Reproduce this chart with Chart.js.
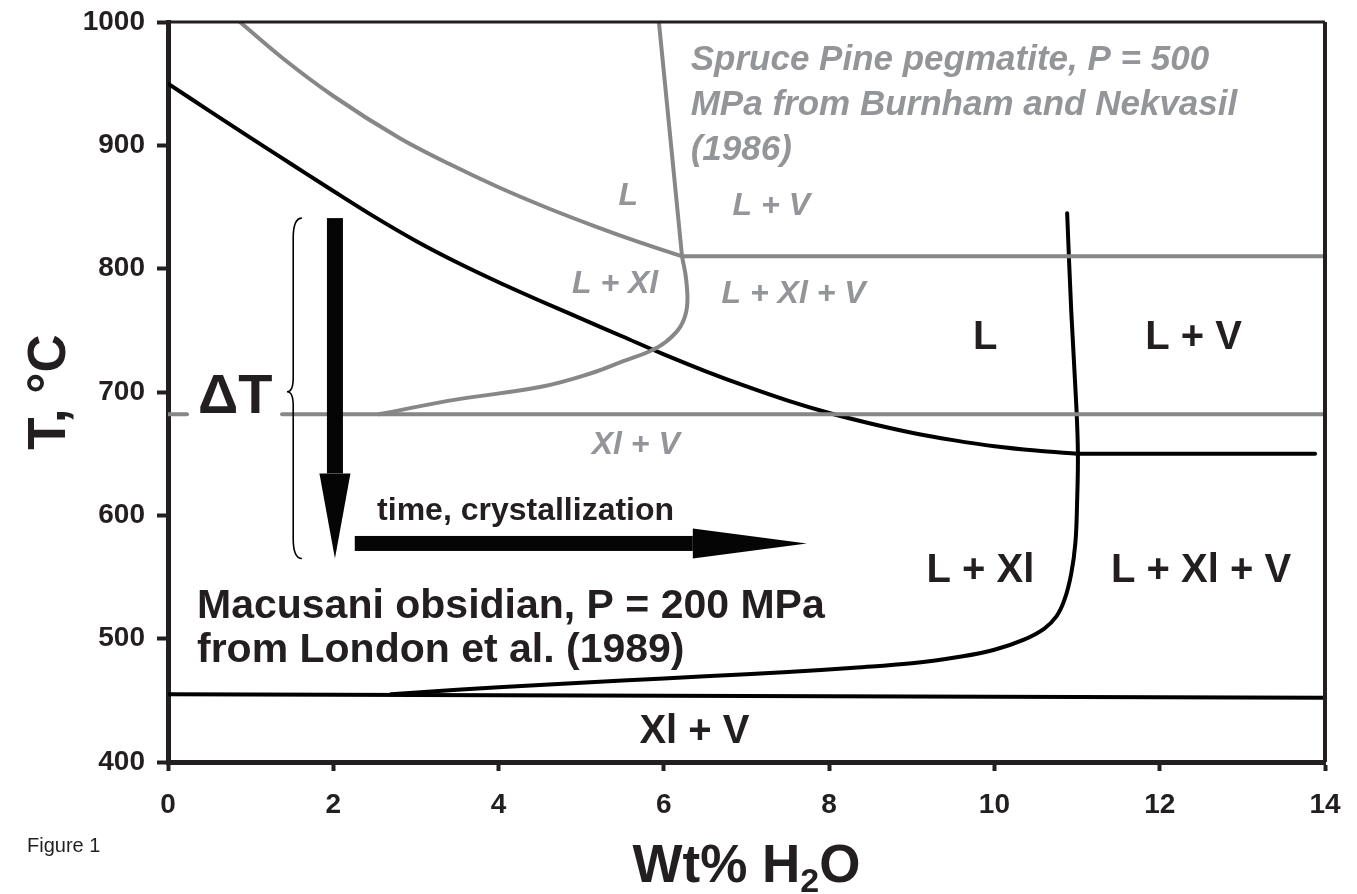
<!DOCTYPE html>
<html>
<head>
<meta charset="utf-8">
<script src="https://cdn.jsdelivr.net/npm/chart.js@4.4.1/dist/chart.umd.min.js"></script>
<style>
  html, body { margin: 0; padding: 0; background: #fff; }
  canvas { display: block; }
</style>
</head>
<body>
<canvas id="phaseChart" width="1357" height="894"></canvas>
<script>
// ===============================
// DATA  (x = wt% H2O, y = T in °C)
// ===============================
const xTicks = [0, 2, 4, 6, 8, 10, 12, 14];
const yTicks = [400, 500, 600, 700, 800, 900, 1000];

// Macusani obsidian, P = 200 MPa
const macLiquidusW = [0, 0.5, 1, 1.5, 2, 2.5, 3, 3.5, 4, 4.5, 5, 5.5, 6, 6.5, 7, 7.5, 8, 8.5, 9, 9.5, 10, 10.5, 11];
const macLiquidusT = [950, 928, 906, 884.5, 863, 842, 822.5, 805, 789, 774, 759.5, 745, 730.5, 717, 704.5, 693, 683, 674.5, 667, 661, 656, 652.5, 650];
const macVaporW = [11, 13.88];
const macVaporT = [650, 650];
const macSaturationW = [2.7, 3.5, 4.5, 5.5, 6.5, 7.5, 8.3, 9.0, 9.6, 10.0, 10.35, 10.6, 10.75, 10.85, 10.93, 10.98, 11.0, 11.01, 10.99, 10.93, 10.88];
const macSaturationT = [455, 458.5, 462.5, 466, 469.5, 473, 476.5, 480, 485.5, 491, 499, 508, 518, 532, 553, 578, 610, 650, 690, 765, 845];
const macSolidusW = [0, 14];
const macSolidusT = [455, 452];

// Spruce Pine pegmatite, P = 500 MPa
const spLiquidusW = [0.87, 1.4, 2.0, 2.8, 3.4, 4.0, 4.6, 5.2, 5.7, 6.22];
const spLiquidusT = [1000, 970, 940, 906, 885, 866, 849, 833.5, 821.5, 810];
const spVaporW = [5.94, 6.22];
const spVaporT = [1000, 810];
const spVaporFlatW = [6.22, 14];
const spVaporFlatT = [810, 810];
const spSaturationW = [6.22, 6.27, 6.28, 6.2, 6.03, 5.83, 5.51, 5.11, 4.5, 3.5, 2.55];
const spSaturationT = [810, 791, 769, 753, 741, 733, 725, 715, 704, 694, 682];
const spSolidusStubW = [0, 0.23];
const spSolidusStubT = [682, 682];
const spSolidusW = [1.38, 14];
const spSolidusT = [682, 682];

// ===============================
// STYLE
// ===============================
const INK = '#231f20';
const LINE_BLACK = '#000000';
const LINE_GRAY = '#878787';
const TEXT_GRAY = '#939598';
const FONT = '"Liberation Sans", Arial, Helvetica, sans-serif';

const pts = (w, t) => w.map((x, i) => ({ x, y: t[i] }));

function curve(w, t, color, smooth) {
    const ds = {
        data: pts(w, t),
        showLine: true,
        borderColor: color,
        borderWidth: 4,
        pointRadius: 0,
        tension: 0,
        borderCapStyle: 'round',
        borderJoinStyle: 'round',
        fill: false
    };
    if (smooth === 'monotone') ds.cubicInterpolationMode = 'monotone';
    else if (smooth) ds.tension = 0.4;
    return ds;
}

// text labels placed in data units
const blackLabels = [
    { text: 'L', w: 9.89, t: 735 },
    { text: 'L + V', w: 12.41, t: 735 },
    { text: 'L + Xl', w: 9.83, t: 546 },
    { text: 'L + Xl + V', w: 12.5, t: 546 },
    { text: 'Xl + V', w: 6.37, t: 415.5 }
];
const grayLabels = [
    { text: 'L', w: 5.57, t: 851.5 },
    { text: 'L + V', w: 7.3, t: 843.5 },
    { text: 'L + Xl', w: 5.41, t: 780.5 },
    { text: 'L + Xl + V', w: 7.57, t: 772 },
    { text: 'Xl + V', w: 5.66, t: 649.5 }
];
const sourceNote = ['Spruce Pine pegmatite, P = 500', 'MPa from Burnham and Nekvasil', '(1986)'];
const obsidianNote = ['Macusani obsidian, P = 200 MPa', 'from London et al. (1989)'];

// ===============================
// DRAWING HELPERS
// ===============================
function text(ctx, str, x, y, font, color, align) {
    ctx.font = font;
    ctx.fillStyle = color;
    ctx.textAlign = align || 'center';
    ctx.textBaseline = 'alphabetic';
    ctx.fillText(str, x, y);
}

// keep the plot box fixed: no extra room for edge tick labels
function noEdgePadding(s) {
    s.paddingTop = 0;
    s.paddingBottom = 0;
    s.paddingLeft = 0;
    s.paddingRight = 0;
}

const overlay = {
    id: 'overlay',
    afterDatasetsDraw(chart) {
        const { ctx, chartArea: a } = chart;
        const sx = chart.scales.x, sy = chart.scales.y;
        const X = v => sx.getPixelForValue(v);
        const Y = v => sy.getPixelForValue(v);

        ctx.save();

        // top + right frame
        ctx.strokeStyle = INK;
        ctx.lineWidth = 3;
        ctx.beginPath();
        ctx.moveTo(a.left - 2, a.top);
        ctx.lineTo(a.right, a.top);
        ctx.stroke();
        ctx.lineWidth = 4;
        ctx.beginPath();
        ctx.moveTo(a.right, a.top);
        ctx.lineTo(a.right, a.bottom);
        ctx.stroke();

        // vertical cooling arrow
        ctx.fillStyle = '#050505';
        const ax = X(2.02);
        ctx.fillRect(ax - 8, Y(841), 16, Y(634) - Y(841));
        ctx.beginPath();
        ctx.moveTo(ax - 15.5, Y(634));
        ctx.lineTo(ax + 15.5, Y(634));
        ctx.lineTo(ax, Y(565));
        ctx.closePath();
        ctx.fill();

        // horizontal time arrow
        const ay = Y(577.2);
        ctx.fillRect(X(2.26), ay - 7.5, X(6.35) - X(2.26), 15);
        ctx.beginPath();
        ctx.moveTo(X(6.35), ay - 15);
        ctx.lineTo(X(7.73), ay);
        ctx.lineTo(X(6.35), ay + 15);
        ctx.closePath();
        ctx.fill();

        // curly brace spanning the undercooling
        const bEnd = X(1.62), bStem = X(1.515), bTip = X(1.44);
        const bTop = Y(841), bMid = Y(700.2), bBot = Y(565);
        ctx.strokeStyle = '#000';
        ctx.lineWidth = 1.6;
        ctx.beginPath();
        ctx.moveTo(bEnd, bTop);
        ctx.quadraticCurveTo(bStem, bTop, bStem, bTop + 20);
        ctx.lineTo(bStem, bMid - 14);
        ctx.quadraticCurveTo(bStem, bMid, bTip, bMid);
        ctx.quadraticCurveTo(bStem, bMid, bStem, bMid + 14);
        ctx.lineTo(bStem, bBot - 20);
        ctx.quadraticCurveTo(bStem, bBot, bEnd, bBot);
        ctx.stroke();

        // ΔT
        text(ctx, 'ΔT', X(0.363), Y(682.7), 'bold 56px ' + FONT, INK, 'left');

        // region labels
        blackLabels.forEach(l => text(ctx, l.text, X(l.w), Y(l.t), 'bold 40px ' + FONT, INK));
        grayLabels.forEach(l => text(ctx, l.text, X(l.w), Y(l.t), 'italic bold 32px ' + FONT, TEXT_GRAY));

        // notes
        sourceNote.forEach((s, i) => text(ctx, s, X(6.325), Y(961) + i * 45, 'italic bold 35px ' + FONT, TEXT_GRAY, 'left'));
        obsidianNote.forEach((s, i) => text(ctx, s, X(0.351), Y(516.7) + i * 44, 'bold 41px ' + FONT, INK, 'left'));
        text(ctx, 'time, crystallization', X(2.53), Y(596.2), 'bold 32px ' + FONT, INK, 'left');

        // axis titles
        ctx.save();
        ctx.translate(65, (a.top + a.bottom) / 2);
        ctx.rotate(-Math.PI / 2);
        text(ctx, 'T, °C', 0, 0, 'bold 53px ' + FONT, INK, 'center');
        ctx.restore();

        const big = 'bold 53px ' + FONT, small = 'bold 34px ' + FONT;
        ctx.font = big;
        const w1 = ctx.measureText('Wt% H').width;
        const w3 = ctx.measureText('O').width;
        ctx.font = small;
        const w2 = ctx.measureText('2').width;
        const tx = (a.left + a.right) / 2 - (w1 + w2 + w3) / 2;
        const ty = 882;
        text(ctx, 'Wt% H', tx, ty, big, INK, 'left');
        text(ctx, '2', tx + w1, ty + 10, small, INK, 'left');
        text(ctx, 'O', tx + w1 + w2, ty, big, INK, 'left');

        text(ctx, 'Figure 1', 27, 852, '20px ' + FONT, INK, 'left');

        ctx.restore();
    }
};

// ===============================
// CHART
// ===============================
const ctx = document.getElementById('phaseChart').getContext('2d');

new Chart(ctx, {
    type: 'scatter',
    data: {
        datasets: [
            curve(spLiquidusW, spLiquidusT, LINE_GRAY, 'monotone'),
            curve(spVaporW, spVaporT, LINE_GRAY),
            curve(spVaporFlatW, spVaporFlatT, LINE_GRAY),
            curve(spSaturationW, spSaturationT, LINE_GRAY, true),
            curve(spSolidusStubW, spSolidusStubT, LINE_GRAY),
            curve(spSolidusW, spSolidusT, LINE_GRAY),
            curve(macLiquidusW, macLiquidusT, LINE_BLACK, 'monotone'),
            curve(macVaporW, macVaporT, LINE_BLACK),
            curve(macSaturationW, macSaturationT, LINE_BLACK, true),
            curve(macSolidusW, macSolidusT, LINE_BLACK)
        ]
    },
    options: {
        responsive: false,
        animation: false,
        layout: { padding: { left: 0, right: 32, top: 22, bottom: 0 } },
        plugins: {
            legend: { display: false },
            tooltip: { enabled: false }
        },
        scales: {
            x: {
                type: 'linear',
                min: 0,
                max: 14,
                afterBuildTicks: s => { s.ticks = xTicks.map(v => ({ value: v })); },
                afterFit: s => { s.height = 132; noEdgePadding(s); },
                grid: { drawOnChartArea: false, tickLength: 9, tickWidth: 4, tickColor: INK },
                border: { color: INK, width: 5 },
                ticks: {
                    color: INK,
                    font: { family: FONT, size: 28, weight: 'bold' },
                    padding: 17,
                    maxRotation: 0,
                    callback: v => String(v)
                }
            },
            y: {
                type: 'linear',
                min: 400,
                max: 1000,
                afterBuildTicks: s => { s.ticks = yTicks.map(v => ({ value: v })); },
                afterFit: s => { s.width = 168; noEdgePadding(s); },
                grid: { drawOnChartArea: false, tickLength: 11, tickWidth: 4, tickColor: INK },
                border: { color: INK, width: 5 },
                ticks: {
                    color: INK,
                    font: { family: FONT, size: 28, weight: 'bold' },
                    padding: 12,
                    callback: v => String(v)
                }
            }
        }
    },
    plugins: [overlay]
});
</script>
</body>
</html>
